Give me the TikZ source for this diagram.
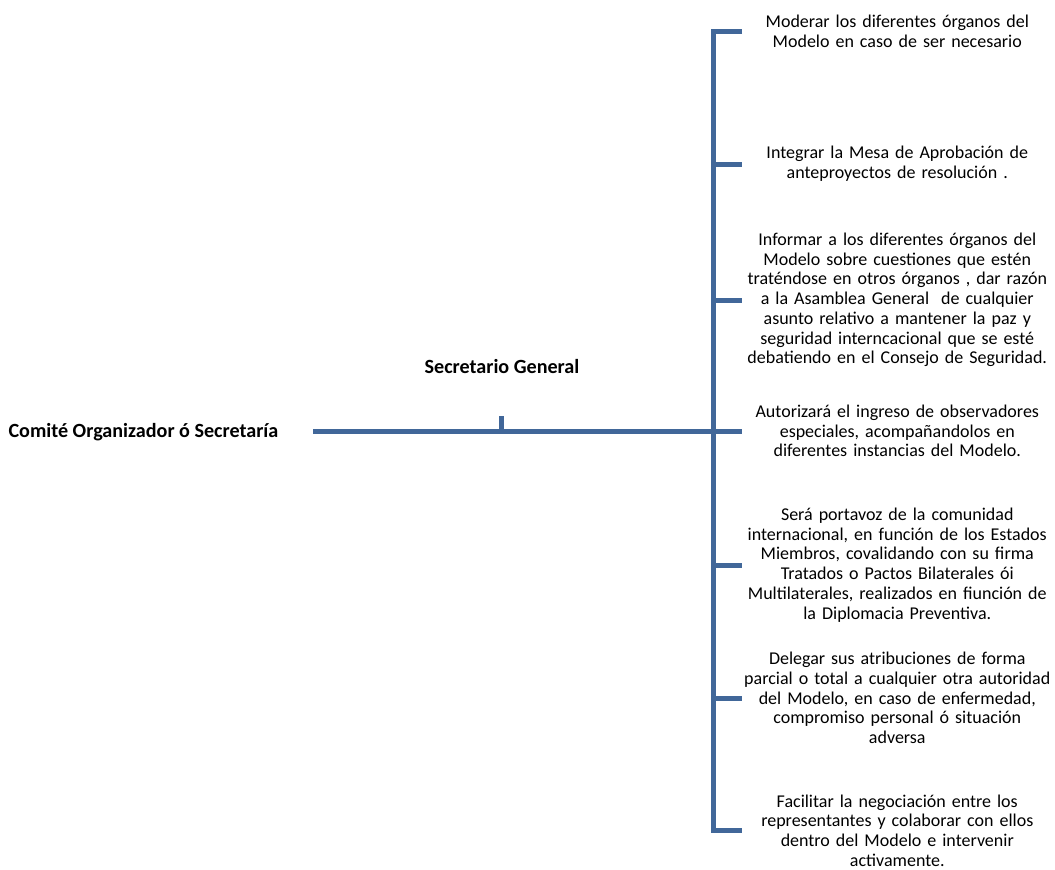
\documentclass[tikz,border=0pt]{standalone}
\usepackage{fontspec}
\setmainfont{Carlito}
\usepackage{tikz}
\usetikzlibrary{calc}
\definecolor{barblue}{RGB}{65,103,153}

\begin{document}
\begin{tikzpicture}
  [x=0.75pt,y=-0.75pt,
   every node/.style={inner sep=0pt,
                      font=\fontsize{13.5}{14.8}\selectfont
                      },
   item/.style={anchor=west,
                text width=232.5pt,
                align=center},
   title/.style={font=\fontsize{15.1}{18}\selectfont\bfseries},
   bar/.style={draw=barblue,line width=3.75pt,line join=miter}]
  \useasboundingbox (0,0) rectangle (1055,869);

  % left side
  \node[title,anchor=east,outer xsep=26pt] (root) at (313,432) {Comité Organizador ó Secretaría};
  \node[title] (sg) at (502,366) {Secretario General};

  % functions of the secretary
  \node[item] (f1) at (742,31) {Moderar los diferentes órganos del\\ Modelo en caso de ser necesario};
  \node[item] (f2) at (742,164) {Integrar la Mesa de Aprobación de\\ anteproyectos de resolución .};
  \node[item] (f3) at (742,300) {Informar a los diferentes órganos del\\ Modelo sobre cuestiones que estén\\ traténdose en otros órganos , dar razón\\ a la Asamblea General~ de cualquier\\ asunto relativo a mantener la paz y\\ seguridad interncacional que se esté\\ debatiendo en el Consejo de Seguridad.};
  \node[item] (f4) at (742,431) {Autorizará el ingreso de observadores\\ especiales, acompañandolos en\\ diferentes instancias del Modelo.};
  \node[item] (f5) at (742,565) {Será portavoz de la comunidad\\ internacional, en función de los Estados\\ Miembros, covalidando con su firma\\ Tratados o Pactos Bilaterales ói\\ Multilaterales, realizados en fiunción de\\ la Diplomacia Preventiva.};
  \node[item] (f6) at (742,698) {Delegar sus atribuciones de forma\\ parcial o total a cualquier otra autoridad\\ del Modelo, en caso de enfermedad,\\ compromiso personal ó situación\\ adversa};
  \node[item] (f7) at (742,830.5) {Facilitar la negociación entre los\\ representantes y colaborar con ellos\\ dentro del Modelo e intervenir\\ activamente.};

  \coordinate (spine) at (713.5,431);
  \coordinate (tick) at (501.5,416);

  % bracket
  \draw[bar] (f1.west) -- (f1.west -| spine) -- (f7.west -| spine) -- (f7.west);
  \foreach \f in {f2,f3,f5,f6}
    \draw[bar] (\f.west -| spine) -- (\f.west);
  \draw[bar] (root.east |- f4.west) -- (f4.west);
  \draw[bar] (tick) -- (tick |- f4.west);
\end{tikzpicture}
\end{document}
